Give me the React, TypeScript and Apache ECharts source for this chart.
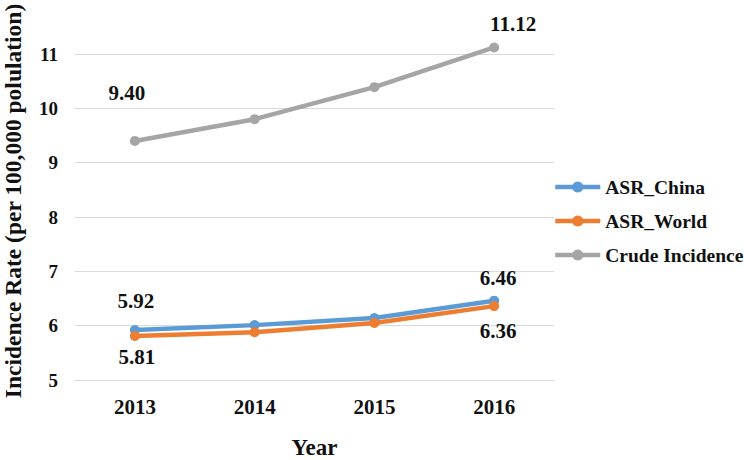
import React, { useEffect, useRef } from "react";
import * as echarts from "echarts";

// Years on the category axis
const years = ["2013", "2014", "2015", "2016"];

// Incidence rates per 100,000 population
const asrChina = [5.92, 6.01, 6.14, 6.46];
const asrWorld = [5.81, 5.88, 6.05, 6.36];
const crudeIncidence = [9.4, 9.8, 10.39, 11.12];

// Y axis bounds
const yMin = 5;
const yMax = 11;
const yStep = 1;

const yTitle = "Incidence Rate (per 100,000 polulation)";
const xTitle = "Year";

const FONT = "'Liberation Serif', 'Times New Roman', serif";

type LabelSpec = { index: number; offset: [number, number] };

// Build series data, attaching value labels only to the chosen points
function withLabels(values: number[], labels: LabelSpec[]) {
  return values.map((v, i) => {
    const spec = labels.find((l) => l.index === i);
    if (!spec) return v;
    return {
      value: v,
      label: {
        show: true,
        position: "inside",
        offset: spec.offset,
        formatter: (p: any) => Number(p.value).toFixed(2),
        fontFamily: FONT,
        fontWeight: "bold",
        fontSize: 21,
        color: "#111",
      },
    };
  });
}

export default function App() {
  const ref = useRef<HTMLDivElement>(null);

  useEffect(() => {
    if (!ref.current) return;
    const chart = echarts.init(ref.current, null, { renderer: "svg" });

    const lineSeries = (name: string, color: string, data: any[]) => ({
      name,
      type: "line",
      data,
      clip: false,
      symbol: "circle",
      symbolSize: 10,
      showSymbol: true,
      lineStyle: { color, width: 4.5 },
      itemStyle: { color },
      emphasis: { disabled: true },
      label: { show: false },
    });

    chart.setOption({
      animation: false,
      backgroundColor: "#ffffff",
      grid: {
        left: 75,
        right: 190,
        top: 54,
        bottom: 80,
        containLabel: false,
        outerBoundsMode: "none",
      },
      legend: {
        orient: "vertical",
        left: 553,
        top: 177,
        padding: 0,
        itemWidth: 45,
        itemHeight: 14,
        itemGap: 14,
        lineStyle: { width: 4.5 },
        textStyle: {
          fontFamily: FONT,
          fontWeight: "bold",
          fontSize: 19.5,
          color: "#111",
        },
        data: ["ASR_China", "ASR_World", "Crude Incidence"],
      },
      // Vertical title for the value axis, set slightly above the axis centre
      graphic: [
        {
          type: "text",
          x: 13,
          y: 201,
          rotation: Math.PI / 2,
          silent: true,
          style: {
            text: yTitle,
            fontFamily: FONT,
            fontWeight: "bold",
            fontSize: 23.5,
            fill: "#111",
            align: "center",
            verticalAlign: "middle",
          },
        },
      ],
      xAxis: {
        type: "category",
        data: years,
        boundaryGap: true,
        axisLine: { show: true, lineStyle: { color: "#d9d9d9", width: 1 } },
        axisTick: { show: false },
        axisLabel: {
          margin: 16,
          fontFamily: FONT,
          fontWeight: "bold",
          fontSize: 21,
          color: "#111",
        },
        name: xTitle,
        nameLocation: "middle",
        nameGap: 56,
        nameTextStyle: {
          fontFamily: FONT,
          fontWeight: "bold",
          fontSize: 23,
          lineHeight: 23,
          color: "#111",
        },
      },
      yAxis: {
        type: "value",
        min: yMin,
        max: yMax,
        interval: yStep,
        axisLine: { show: false },
        axisTick: { show: false },
        splitLine: { lineStyle: { color: "#d9d9d9", width: 1 } },
        axisLabel: {
          margin: 17,
          fontFamily: FONT,
          fontWeight: "bold",
          fontSize: 19,
          color: "#111",
        },
      },
      series: [
        lineSeries(
          "ASR_China",
          "#5B9BD5",
          withLabels(asrChina, [
            { index: 0, offset: [1, -29] },
            { index: 3, offset: [4, -23] },
          ])
        ),
        lineSeries(
          "ASR_World",
          "#ED7D31",
          withLabels(asrWorld, [
            { index: 0, offset: [2, 21] },
            { index: 3, offset: [4, 25] },
          ])
        ),
        lineSeries(
          "Crude Incidence",
          "#A5A5A5",
          withLabels(crudeIncidence, [
            { index: 0, offset: [-8, -48] },
            { index: 3, offset: [19, -23] },
          ])
        ),
      ],
    });

    return () => chart.dispose();
  }, []);

  return (
    <div
      ref={ref}
      style={{ position: "fixed", left: 0, top: 0, width: 744, height: 460 }}
    />
  );
}
